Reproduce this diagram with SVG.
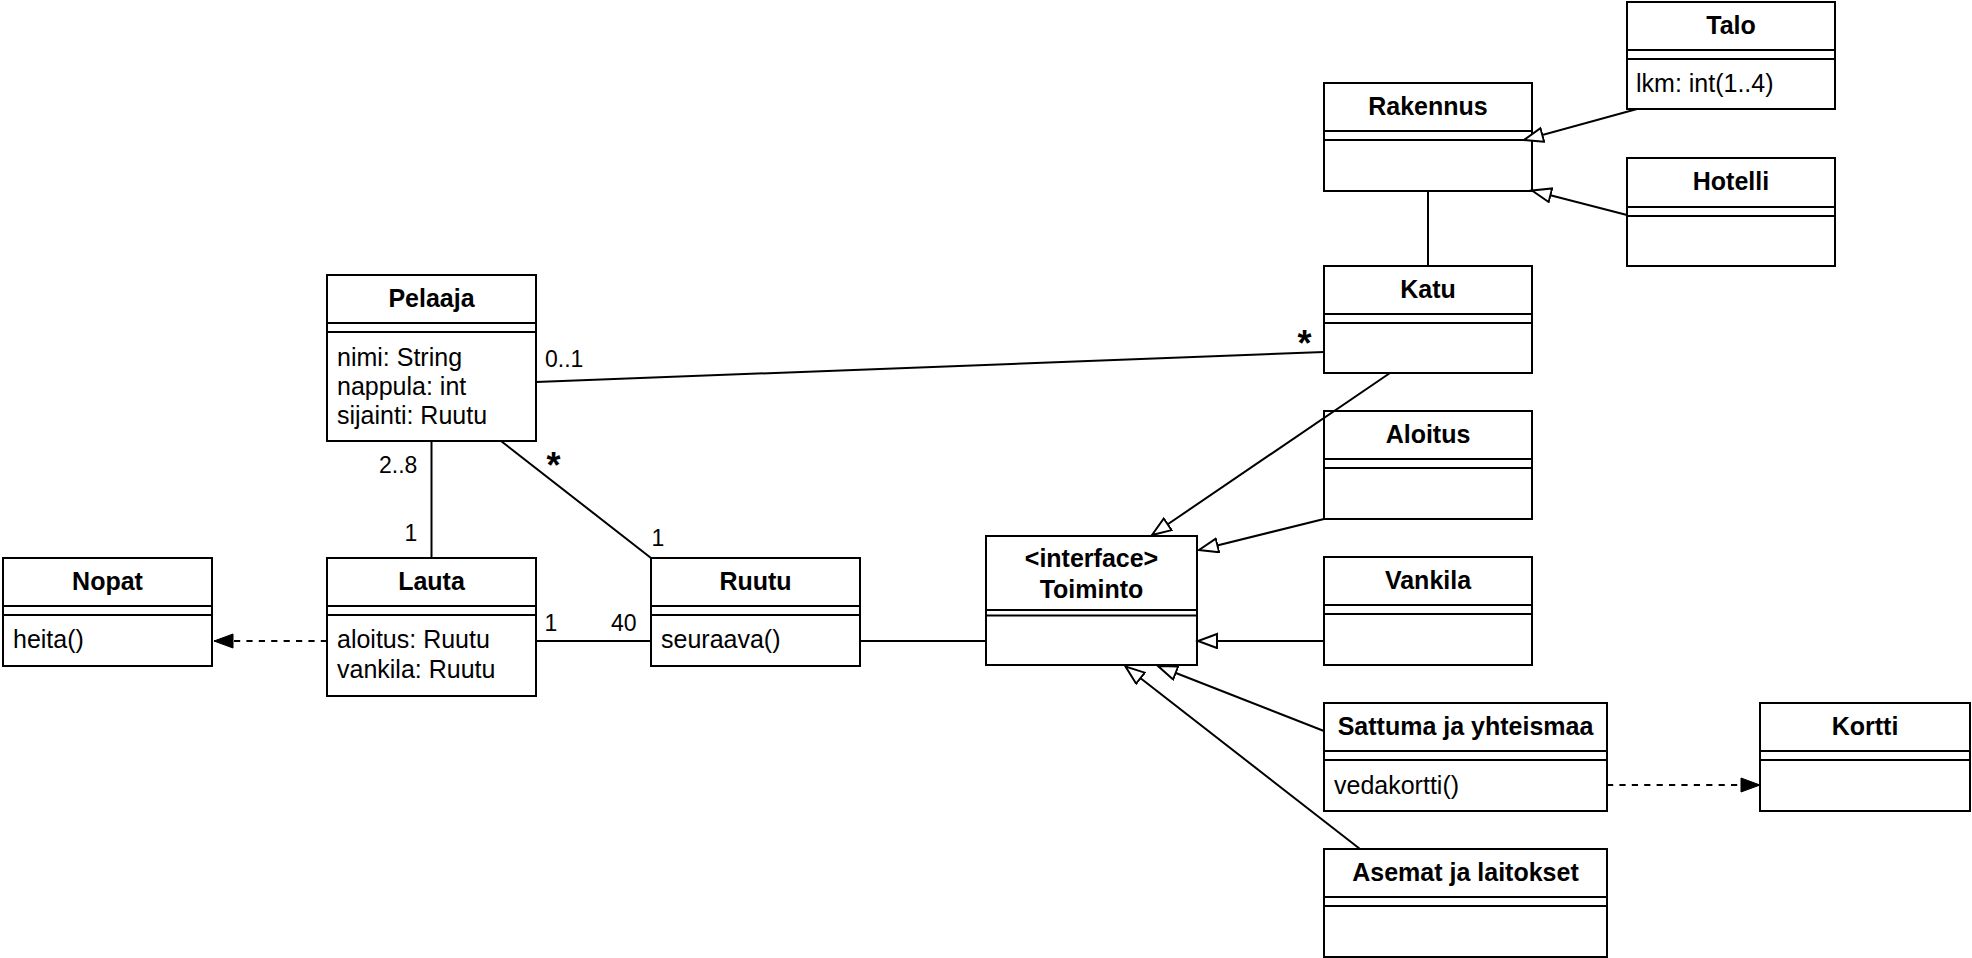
<svg xmlns="http://www.w3.org/2000/svg" width="1972" height="958" viewBox="0 0 1972 958">
<defs>
<style>
.box{fill:#fff;stroke:#000;stroke-width:2}
.sep{stroke:#000;stroke-width:2}
.t{font-family:"Liberation Sans",Arial,Helvetica,sans-serif;font-size:25px;font-weight:bold;text-anchor:middle;fill:#000}
.b{font-family:"Liberation Sans",Arial,Helvetica,sans-serif;font-size:25px;fill:#000}
.l{font-family:"Liberation Sans",Arial,Helvetica,sans-serif;font-size:23px;fill:#000}
.star{font-family:"Liberation Sans",Arial,Helvetica,sans-serif;font-size:36px;font-weight:bold;text-anchor:middle;fill:#000}
.c{fill:none;stroke:#000;stroke-width:2}
.d{fill:none;stroke:#000;stroke-width:2;stroke-dasharray:6.2 6.2}
</style>
<marker id="gen" markerUnits="userSpaceOnUse" markerWidth="24" markerHeight="18" refX="20" refY="8" orient="auto" viewBox="0 0 24 18">
<path d="M1,1 L20,8 L1,15 Z" fill="#fff" stroke="#000" stroke-width="2"/>
</marker>
<marker id="dep" markerUnits="userSpaceOnUse" markerWidth="24" markerHeight="18" refX="20" refY="8" orient="auto" viewBox="0 0 24 18">
<path d="M1,1 L20,8 L1,15 Z" fill="#000" stroke="#000" stroke-width="1"/>
</marker>
</defs>
<rect width="1972" height="958" fill="#fff"/>

<g id="Pelaaja">
<rect class="box" x="327" y="275" width="209" height="166"/>
<line class="sep" x1="327" y1="323" x2="536" y2="323"/>
<line class="sep" x1="327" y1="332" x2="536" y2="332"/>
<text class="t" x="431.5" y="307">Pelaaja</text>
<text class="b" x="337" y="366">nimi: String</text>
<text class="b" x="337" y="395">nappula: int</text>
<text class="b" x="337" y="424">sijainti: Ruutu</text>
</g>

<g id="Lauta">
<rect class="box" x="327" y="558" width="209" height="138"/>
<line class="sep" x1="327" y1="606" x2="536" y2="606"/>
<line class="sep" x1="327" y1="615" x2="536" y2="615"/>
<text class="t" x="431.5" y="590">Lauta</text>
<text class="b" x="337" y="648">aloitus: Ruutu</text>
<text class="b" x="337" y="678">vankila: Ruutu</text>
</g>

<g id="Nopat">
<rect class="box" x="3" y="558" width="209" height="108"/>
<line class="sep" x1="3" y1="606" x2="212" y2="606"/>
<line class="sep" x1="3" y1="615" x2="212" y2="615"/>
<text class="t" x="107.5" y="590">Nopat</text>
<text class="b" x="13" y="648">heita()</text>
</g>

<g id="Ruutu">
<rect class="box" x="651" y="558" width="209" height="108"/>
<line class="sep" x1="651" y1="606" x2="860" y2="606"/>
<line class="sep" x1="651" y1="615" x2="860" y2="615"/>
<text class="t" x="755.5" y="590">Ruutu</text>
<text class="b" x="661" y="648">seuraava()</text>
</g>

<g id="Toiminto">
<rect class="box" x="986" y="536" width="211" height="129"/>
<line class="sep" x1="986" y1="610" x2="1197" y2="610"/>
<line class="sep" x1="986" y1="615.5" x2="1197" y2="615.5"/>
<text class="t" x="1091.5" y="567">&lt;interface&gt;</text>
<text class="t" x="1091.5" y="598">Toiminto</text>
</g>

<g id="Talo">
<rect class="box" x="1627" y="2" width="208" height="107"/>
<line class="sep" x1="1627" y1="50" x2="1835" y2="50"/>
<line class="sep" x1="1627" y1="59" x2="1835" y2="59"/>
<text class="t" x="1731" y="34">Talo</text>
<text class="b" x="1636" y="92">lkm: int(1..4)</text>
</g>

<g id="Rakennus">
<rect class="box" x="1324" y="83" width="208" height="108"/>
<line class="sep" x1="1324" y1="131" x2="1532" y2="131"/>
<line class="sep" x1="1324" y1="140" x2="1532" y2="140"/>
<text class="t" x="1428" y="115">Rakennus</text>
</g>

<g id="Hotelli">
<rect class="box" x="1627" y="158" width="208" height="108"/>
<line class="sep" x1="1627" y1="207" x2="1835" y2="207"/>
<line class="sep" x1="1627" y1="216" x2="1835" y2="216"/>
<text class="t" x="1731" y="190">Hotelli</text>
</g>

<g id="Katu">
<rect class="box" x="1324" y="266" width="208" height="107"/>
<line class="sep" x1="1324" y1="314" x2="1532" y2="314"/>
<line class="sep" x1="1324" y1="323" x2="1532" y2="323"/>
<text class="t" x="1428" y="298">Katu</text>
</g>

<g id="Aloitus">
<rect class="box" x="1324" y="411" width="208" height="108"/>
<line class="sep" x1="1324" y1="459" x2="1532" y2="459"/>
<line class="sep" x1="1324" y1="468" x2="1532" y2="468"/>
<text class="t" x="1428" y="443">Aloitus</text>
</g>

<g id="Vankila">
<rect class="box" x="1324" y="557" width="208" height="108"/>
<line class="sep" x1="1324" y1="605" x2="1532" y2="605"/>
<line class="sep" x1="1324" y1="614" x2="1532" y2="614"/>
<text class="t" x="1428" y="589">Vankila</text>
</g>

<g id="Sattuma">
<rect class="box" x="1324" y="703" width="283" height="108"/>
<line class="sep" x1="1324" y1="751" x2="1607" y2="751"/>
<line class="sep" x1="1324" y1="760" x2="1607" y2="760"/>
<text class="t" x="1465.5" y="735">Sattuma ja yhteismaa</text>
<text class="b" x="1334" y="794">vedakortti()</text>
</g>

<g id="Kortti">
<rect class="box" x="1760" y="703" width="210" height="108"/>
<line class="sep" x1="1760" y1="751" x2="1970" y2="751"/>
<line class="sep" x1="1760" y1="760" x2="1970" y2="760"/>
<text class="t" x="1865" y="735">Kortti</text>
</g>

<g id="Asemat">
<rect class="box" x="1324" y="849" width="283" height="108"/>
<line class="sep" x1="1324" y1="897" x2="1607" y2="897"/>
<line class="sep" x1="1324" y1="906" x2="1607" y2="906"/>
<text class="t" x="1465.5" y="881">Asemat ja laitokset</text>
</g>

<g id="connectors">
<path class="c" d="M536,382 L1324,352"/>
<path class="c" d="M431.5,441 V558"/>
<path class="c" d="M501,441 L651,558"/>
<path class="c" d="M536,641 H651"/>
<path class="d" d="M327,641 H214" marker-end="url(#dep)"/>
<path class="c" d="M860,641 H986"/>
<path class="c" d="M1428,191 V266"/>
<path class="c" d="M1637,109 L1524,140" marker-end="url(#gen)"/>
<path class="c" d="M1627,215 L1532,190.5" marker-end="url(#gen)"/>
<path class="c" d="M1390,373 L1152,535" marker-end="url(#gen)"/>
<path class="c" d="M1324,519 L1199,550" marker-end="url(#gen)"/>
<path class="c" d="M1324,641 H1198" marker-end="url(#gen)"/>
<path class="c" d="M1324,731 L1158,666" marker-end="url(#gen)"/>
<path class="c" d="M1360,849 L1125.5,666.5" marker-end="url(#gen)"/>
<path class="d" d="M1607,785 H1760" marker-end="url(#dep)"/>
<text class="l" x="545" y="367">0..1</text>
<text class="star" x="1304.5" y="356">*</text>
<text class="l" x="379" y="473">2..8</text>
<text class="l" x="404.5" y="541">1</text>
<text class="star" x="553.5" y="478">*</text>
<text class="l" x="651.5" y="546">1</text>
<text class="l" x="544.5" y="631">1</text>
<text class="l" x="611" y="631">40</text>
</g>
</svg>
